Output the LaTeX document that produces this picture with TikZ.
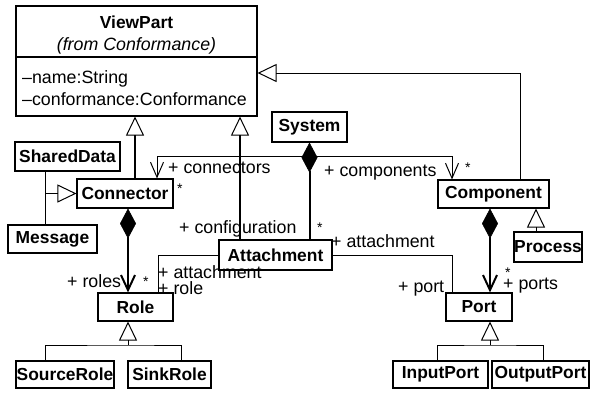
\documentclass[tikz,border=0pt]{standalone}
\usepackage{fontspec}
\setmainfont{Liberation Sans}
\usetikzlibrary{arrows.meta,calc}
\tikzset{
  cls/.style={draw, line width=1.1pt, fill=white, inner sep=0pt,
    font=\fontsize{17.4}{20}\selectfont\bfseries},
  lbl/.style={inner sep=0pt, anchor=base west, font=\fontsize{17.8}{20}\selectfont},
  mult/.style={inner sep=0pt, anchor=base west, font=\fontsize{14}{16}\selectfont},
  thinline/.style={line width=1pt},
  thickline/.style={line width=2pt},
  gen/.style={-{Triangle[open, length=19pt, width=18pt, line width=1pt]}},
  owns/.style={{Diamond[length=30pt, width=16pt, line width=0.5pt]}-{Straight Barb[length=15pt, width=14pt]}},
  ownsonly/.style={{Diamond[length=30pt, width=16pt, line width=0.5pt]}-},
  nav/.style={-{Straight Barb[length=15pt, width=13pt]}},
}
\begin{document}
\begin{tikzpicture}[x=1pt, y=-1pt]
\useasboundingbox (0,0) rectangle (590,392);

% ---- classes ----
\node[cls, minimum width=241pt, minimum height=110pt] (vp) at (136.5,61) {};
\draw[line width=2pt] ($(vp.north west)+(0,52)$) -- ($(vp.north east)+(0,52)$);
\node[inner sep=0pt, anchor=base, font=\fontsize{17.4}{20}\selectfont\bfseries] (vpname) at (136.5,28) {ViewPart};
\node[inner sep=0pt, anchor=base, font=\fontsize{17.8}{20}\selectfont\itshape] (vpfrom) at (136.5,50) {(from Conformance)};
\node[lbl] (vpattra) at (22,83) {–name:String};
\node[lbl] (vpattrb) at (22,105) {–conformance:Conformance};

\node[cls, minimum width=105pt, minimum height=29pt] (shared) at (67.5,156.5) {SharedData};
\node[cls, minimum width=89pt,  minimum height=28pt] (msg)    at (52.5,239)   {Message};
\node[cls, minimum width=96pt,  minimum height=29pt] (conn)   at (125,193.5)  {Connector};
\node[cls, minimum width=75pt,  minimum height=30pt] (sys)    at (309.5,127)  {System};
\node[cls, minimum width=111pt, minimum height=28pt] (cmp)    at (493.5,194)  {Component};
\node[cls, minimum width=68pt,  minimum height=30pt] (proc)   at (548,247)    {Process};
\node[cls, minimum width=113pt, minimum height=30pt] (att)    at (275.5,255)  {Attachment};
\node[cls, minimum width=75pt,  minimum height=28pt] (role)   at (135.5,307)  {Role};
\node[cls, minimum width=66pt,  minimum height=28pt] (port)   at (479,307)    {Port};
\node[cls, minimum width=98pt,  minimum height=27pt] (src)    at (65,374.5)   {SourceRole};
\node[cls, minimum width=83pt,  minimum height=27pt] (sink)   at (169.5,374.5) {SinkRole};
\node[cls, minimum width=95pt,  minimum height=27pt] (inp)    at (440.5,374.5) {InputPort};
\node[cls, minimum width=97pt,  minimum height=27pt] (outp)   at (540.5,374.5) {OutputPort};

% ---- routing columns and rows ----
\coordinate (xmsg)  at (45,0);
\coordinate (xvpc)  at (135,0);
\coordinate (xvpa)  at (240,0);
\coordinate (xcn)   at (157,0);
\coordinate (xrl)   at (128,0);
\coordinate (xat)   at (158,0);
\coordinate (xcp)   at (452,0);
\coordinate (xpt)   at (490,0);
\coordinate (xcv)   at (520,0);
\coordinate (xpr)   at (536,0);
\coordinate (xsk)   at (181,0);
\coordinate (xip)   at (437,0);
\coordinate (xop)   at (543,0);
\coordinate (ycv)   at (0,73);
\coordinate (sysd)  at (309.5,156);
\coordinate (rolej) at (128,345);
\coordinate (portj) at (490,345);

% ---- generalizations ----
\draw[thickline, gen] (conn.north -| xvpc) -- (vp.south -| xvpc);
\draw[thickline, gen] (att.north -| xvpa) -- (vp.south -| xvpa);
\draw[thinline, gen] (cmp.north -| xcv) |- (vp.east |- ycv);
\draw[thinline, gen] (proc.north -| xpr) -- (cmp.south -| xpr);
\draw[thinline] (shared.south -| xmsg) -- (msg.north -| xmsg);
\draw[thinline, gen] (conn.west -| xmsg) -- (conn.west);
\draw[thinline] (src.north -| xmsg) |- (rolej) -| (sink.north -| xsk);
\draw[thinline, gen] (rolej) -- (role.south -| rolej);
\draw[thinline] (inp.north -| xip) |- (portj) -| (outp.north -| xop);
\draw[thinline, gen] (portj) -- (port.south -| portj);

% ---- associations ----
\draw[thinline, nav] (sysd) -| (conn.north -| xcn);
\draw[thinline, nav] (sysd) -| (cmp.north -| xcp);
\draw[thickline, ownsonly] (sys.south) -- (att.north -| sys.south);
\draw[thickline, owns] (conn.south -| xrl) -- (role.north -| xrl);
\draw[thickline, owns] (cmp.south -| xpt) -- (port.north -| xpt);
\draw[thinline] (att.west) -| (role.north -| xat);
\draw[thinline] (att.east) -| (port.north -| xcp);

% ---- role names and multiplicities ----
\node[lbl]  (lconn)  at (168,173) {+ connectors};
\node[mult] (mconn)  at (177,193) {*};
\node[lbl]  (lcomp)  at (324,176) {+ components};
\node[mult] (mcomp)  at (465,172) {*};
\node[lbl]  (lcfg)   at (179,233) {+ configuration};
\node[mult] (mcfg)   at (317,232) {*};
\node[lbl]  (latr)   at (331,247) {+ attachment};
\node[lbl]  (latl)   at (158,278) {+ attachment};
\node[lbl]  (lrole)  at (158,294) {+ role};
\node[lbl]  (lroles) at (67,287)  {+ roles};
\node[mult] (mroles) at (143,286) {*};
\node[lbl]  (lport)  at (398,292) {+ port};
\node[mult] (mports) at (505,277) {*};
\node[lbl]  (lports) at (503,289) {+ ports};
\end{tikzpicture}
\end{document}
